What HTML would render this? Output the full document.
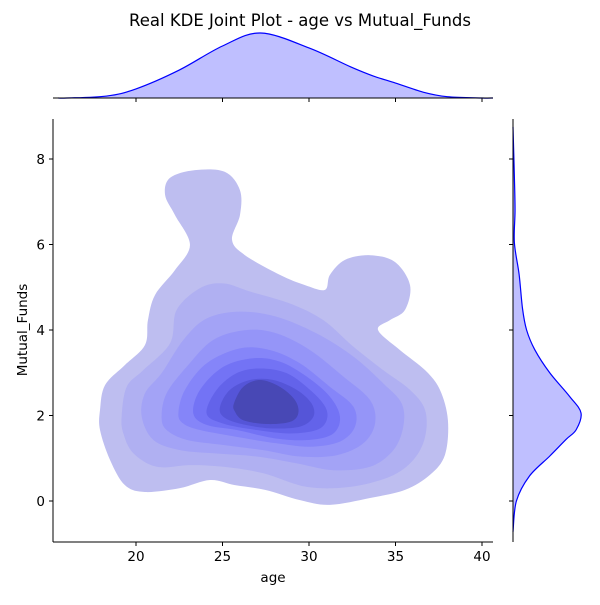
<!DOCTYPE html>
<html><head><meta charset="utf-8"><style>
body{margin:0;background:#fff}
svg text{font-family:"DejaVu Sans","Liberation Sans",sans-serif;fill:#000}
</style></head><body>
<svg id="c" width="600" height="600" xmlns="http://www.w3.org/2000/svg">
<text x="300" y="26" font-size="16.5" text-anchor="middle">Real KDE Joint Plot - age vs Mutual_Funds</text>
</svg>
<script>
const xTicks=[20,25,30,35,40];
const yTicks=[0,2,4,6,8];
const outerAge=[17.92,18.21,19.36,20.52,20.69,21.10,22.25,23.12,22.25,21.68,21.97,23.41,25.14,26.01,26.01,25.55,26.30,28.32,29.77,30.92,31.21,32.08,33.53,34.97,35.84,35.55,34.68,33.99,35.26,36.71,37.57,38.03,37.86,36.99,35.55,33.53,31.21,29.48,27.46,25.72,24.28,22.54,20.52,19.36,18.50,17.92];
const outerFunds=[2.13,2.71,3.18,3.65,4.23,4.82,5.40,5.99,6.69,7.16,7.56,7.74,7.70,7.27,6.69,6.11,5.75,5.29,5.05,4.94,5.29,5.64,5.75,5.59,5.05,4.47,4.23,4.00,3.53,3.06,2.60,1.89,1.08,0.61,0.26,0.07,-0.09,0.02,0.26,0.37,0.49,0.30,0.21,0.37,0.96,1.66];
const l2Age=[19.17,19.46,20.42,21.97,22.35,23.70,25.05,26.59,28.90,30.83,32.56,34.29,35.84,36.71,36.71,36.03,34.68,32.37,29.87,27.36,25.05,23.12,21.20,19.84,19.27];
const l2Funds=[1.97,2.67,3.06,3.69,4.47,4.98,5.09,4.90,4.62,4.23,3.61,3.06,2.60,2.13,1.50,0.96,0.57,0.33,0.33,0.65,0.80,0.84,0.80,1.12,1.58];
const l3Age=[20.33,20.52,21.48,22.74,24.08,26.01,28.13,30.44,32.56,34.30,35.36,35.45,34.88,33.53,31.41,29.29,26.98,24.66,22.54,21.00];
const l3Funds=[1.97,2.52,2.99,3.77,4.27,4.43,4.31,3.92,3.38,2.75,2.28,1.74,1.19,0.80,0.72,0.88,1.04,1.11,1.19,1.43];
const l4Age=[21.48,21.77,22.93,24.47,26.40,28.13,30.06,31.99,33.53,33.82,33.14,31.60,29.48,27.36,25.05,22.93,21.77];
const l4Funds=[1.97,2.52,3.14,3.77,4.00,3.92,3.53,2.91,2.36,1.82,1.35,1.07,1.04,1.19,1.31,1.43,1.66];
const l5Age=[22.45,22.83,24.08,26.01,27.75,29.48,31.21,32.56,32.66,31.79,30.06,28.13,25.82,23.70,22.74];
const l5Funds=[2.05,2.60,3.22,3.57,3.53,3.22,2.67,2.21,1.74,1.39,1.27,1.35,1.50,1.66,1.81];
const l6Age=[23.31,23.70,25.05,26.78,28.32,29.87,31.21,31.79,31.41,30.06,28.13,25.82,24.08];
const l6Funds=[2.05,2.60,3.14,3.34,3.26,2.91,2.44,1.97,1.58,1.43,1.46,1.66,1.78];
const l7Age=[24.08,24.66,25.82,27.17,28.71,30.06,30.93,31.02,30.44,28.90,26.98,25.05];
const l7Funds=[2.05,2.60,2.99,3.10,2.99,2.60,2.21,1.89,1.66,1.58,1.66,1.81];
const l8Age=[24.86,25.43,26.59,27.94,29.29,30.15,30.25,29.48,27.75,26.01,25.05];
const l8Funds=[2.21,2.60,2.83,2.83,2.60,2.28,1.97,1.74,1.70,1.81,1.97];
const l9Age=[25.66,26.20,27.17,28.32,29.19,29.38,28.90,27.55,26.20,25.72];
const l9Funds=[2.28,2.67,2.83,2.67,2.36,2.05,1.85,1.80,1.89,2.09];
const levelColors=["#bebef0","#b0b0f2","#a3a3f6","#9595f8","#8585f9","#7373f5","#6363ea","#5555d8","#4848b5"];
const ageGrid=[15.5,16.0,18.3,20,22.5,25,27.2,30,32.4,33.7,35,36.6,38,40,40.7];
const ageDensity=[0,0,0.03,0.14,0.43,0.80,1.0,0.77,0.48,0.34,0.23,0.09,0.02,0,0];
const fundsGrid=[-0.72,0,0.58,1.05,1.44,1.67,2.06,2.45,3.0,3.54,4.0,4.5,5.3,6.05,6.8,7.6,8.75];
const fundsDensity=[0,0.05,0.24,0.54,0.78,0.93,1.0,0.83,0.54,0.32,0.2,0.14,0.09,0.02,0.03,0.02,0];

const svg=document.getElementById('c');
const NS='http://www.w3.org/2000/svg';
const X=a=>136+(a-20)*17.3;
const Y=f=>501-f*42.75;
const MX0=53,MX1=493,MY0=119,MY1=542;
function el(t,attrs){const e=document.createElementNS(NS,t);for(const k in attrs)e.setAttribute(k,attrs[k]);svg.appendChild(e);return e;}
function smooth(pts,closed){let d='M'+pts[0][0]+','+pts[0][1];const n=pts.length;const g=i=>closed?pts[(i+n)%n]:pts[Math.max(0,Math.min(n-1,i))];const m=closed?n:n-1;for(let i=0;i<m;i++){const p0=g(i-1),p1=g(i),p2=g(i+1),p3=g(i+2);const c1=[p1[0]+(p2[0]-p0[0])/6,p1[1]+(p2[1]-p0[1])/6],c2=[p2[0]-(p3[0]-p1[0])/6,p2[1]-(p3[1]-p1[1])/6];d+=`C${c1[0]},${c1[1]} ${c2[0]},${c2[1]} ${p2[0]},${p2[1]}`;}return d+(closed?'Z':'');}
const levels=[[outerAge,outerFunds],[l2Age,l2Funds],[l3Age,l3Funds],[l4Age,l4Funds],[l5Age,l5Funds],[l6Age,l6Funds],[l7Age,l7Funds],[l8Age,l8Funds],[l9Age,l9Funds]];
levels.forEach((lv,i)=>{
 const pts=lv[0].map((a,j)=>[X(a),Y(lv[1][j])]);
 const p=el('path',{d:smooth(pts,true),fill:levelColors[i]});
 
 
});
// axes
let ax=el('line',{x1:MX0,y1:MY1,x2:MX1,y2:MY1,stroke:'#000','stroke-width':1});

let ay=el('line',{x1:MX0,y1:MY0,x2:MX0,y2:MY1,stroke:'#000','stroke-width':1});

xTicks.forEach(t=>{
 el('line',{x1:X(t),x2:X(t),y1:MY1,y2:MY1+4,stroke:'#000'});
 el('line',{x1:X(t),x2:X(t),y1:98,y2:102,stroke:'#000'});
 const tx=el('text',{x:X(t),y:MY1+19,'font-size':13.5,'text-anchor':'middle'});tx.textContent=t;
 
});
yTicks.forEach(t=>{
 el('line',{x1:MX0-4,x2:MX0,y1:Y(t),y2:Y(t),stroke:'#000'});
 el('line',{x1:509,x2:513,y1:Y(t),y2:Y(t),stroke:'#000'});
 const tx=el('text',{x:MX0-8,y:Y(t)+5,'font-size':13.5,'text-anchor':'end'});tx.textContent=t;
 
});
let xl=el('text',{x:273,y:582,'font-size':13.5,'text-anchor':'middle'});xl.textContent='age';

let yl=el('text',{x:27,y:330,'font-size':13.5,'text-anchor':'middle',transform:'rotate(-90 27 330)'});yl.textContent='Mutual_Funds';

// top marginal
let tp=ageGrid.map((a,i)=>[Math.max(MX0,Math.min(MX1,X(a))),98-ageDensity[i]*65]);
let tc=smooth(tp,false);
let tf=el('path',{d:tc+'Z',fill:'rgba(0,0,255,0.25)',stroke:'none'});

let tl=el('path',{d:tc,fill:'none',stroke:'blue','stroke-width':1.2});

el('line',{x1:MX0,x2:MX1,y1:98,y2:98,stroke:'#000'});
// right marginal
let rp=fundsGrid.map((f,i)=>[513+fundsDensity[i]*68,Y(f)]);
let rc=smooth(rp,false);
let rf=el('path',{d:rc+'Z',fill:'rgba(0,0,255,0.25)',stroke:'none'});

let rl=el('path',{d:rc,fill:'none',stroke:'blue','stroke-width':1.2});

el('line',{x1:513,x2:513,y1:MY0,y2:MY1,stroke:'#000'});
</script>
</body></html>
